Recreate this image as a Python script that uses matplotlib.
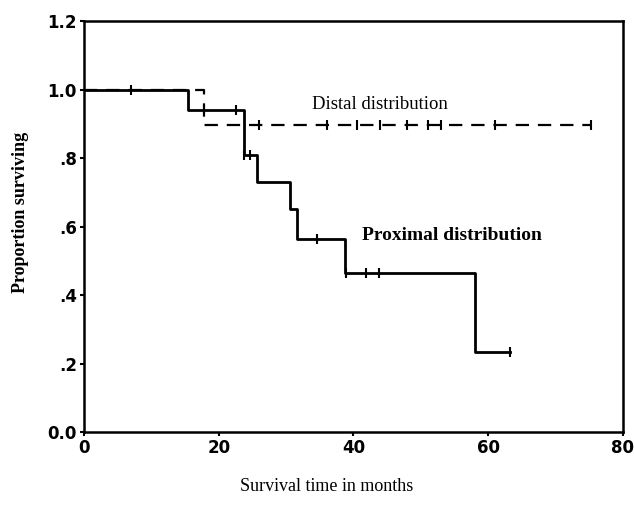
import matplotlib
matplotlib.use("Agg")
import matplotlib.pyplot as plt

# Proximal distribution: Kaplan-Meier steps (time, survival after the step)
prox_times = [0, 15.5, 23.8, 25.7, 30.6, 31.6, 38.7, 58.0, 63.2]
prox_surv = [1.0, 0.94, 0.81, 0.73, 0.65, 0.565, 0.465, 0.235, 0.235]
prox_cens_t = [0, 7, 22.5, 23.8, 24.6, 34.6, 38.9, 41.8, 43.8, 63.2]
prox_cens_s = [1.0, 1.0, 0.94, 0.81, 0.81, 0.565, 0.465, 0.465, 0.465, 0.235]

# Distal distribution
dist_times = [0, 17.8, 75.2]
dist_surv = [1.0, 0.895, 0.895]
dist_cens_t = [26, 36, 40.5, 44, 48, 51, 53, 61, 75.2]
dist_cens_s = [0.895] * 9

y_ticks = [0.0, 0.2, 0.4, 0.6, 0.8, 1.0, 1.2]
y_labels = ["0.0", ".2", ".4", ".6", ".8", "1.0", "1.2"]
x_ticks = [0, 20, 40, 60, 80]

serif = ["Liberation Serif", "DejaVu Serif"]
narrow = ["Liberation Sans Narrow", "DejaVu Sans"]

fig = plt.figure(figsize=(6.34, 5.12), dpi=100)
ax = fig.add_axes([0.1325, 0.156, 0.85, 0.803])

ax.step(prox_times, prox_surv, where="post", color="black", lw=2.0)
ax.plot(prox_cens_t, prox_cens_s, ls="none", marker="|", ms=7, mew=1.5, color="black")

ax.step(dist_times, dist_surv, where="post", color="black", lw=1.6, dashes=(6, 4))
ax.plot(dist_cens_t, dist_cens_s, ls="none", marker="|", ms=7, mew=1.5, color="black")

ax.text(44, 0.955, "Distal distribution", family=serif, fontsize=13.5,
        ha="center", va="center")
ax.text(41.3, 0.575, "Proximal distribution", family=serif, fontsize=14,
        fontweight="bold", ha="left", va="center")

ax.set_xlim(0, 80)
ax.set_ylim(0, 1.2)
ax.set_xticks(x_ticks)
ax.set_yticks(y_ticks)
ax.set_yticklabels(y_labels)
ax.tick_params(direction="out", length=3, width=1.5, pad=2)
for lab in ax.get_xticklabels() + ax.get_yticklabels():
    lab.set_family(narrow)
    lab.set_fontweight("bold")
    lab.set_fontsize(12)
for sp in ax.spines.values():
    sp.set_linewidth(1.8)

fig.text(0.032, 0.585, "Proportion surviving", family=serif, fontsize=13,
         fontweight="bold", rotation=90, ha="center", va="center")
fig.text(0.515, 0.05, "Survival time in months", family=serif, fontsize=13,
         ha="center", va="center")

fig.savefig("out.png", dpi=100)
